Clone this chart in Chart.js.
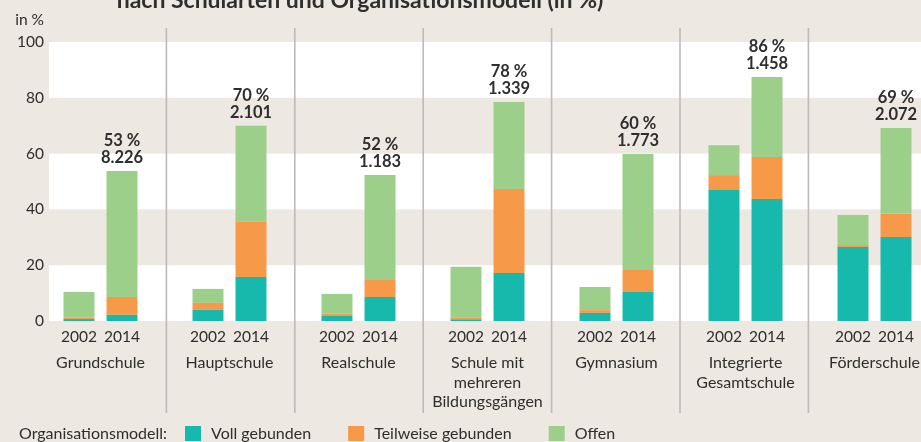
<!DOCTYPE html>
<html lang="de">
<head>
<meta charset="utf-8">
<script src="https://cdn.jsdelivr.net/npm/chart.js@4.4.1/dist/chart.umd.min.js"></script>
<style>
    html, body { margin: 0; padding: 0; overflow: hidden; background: #ede8e1; }
    #wrap { position: relative; width: 945px; height: 442px; }
</style>
</head>
<body>
<div id="wrap"><canvas id="myChart"></canvas></div>
<script>
const categories = [
    ["Grundschule"],
    ["Hauptschule"],
    ["Realschule"],
    ["Schule mit", "mehreren", "Bildungsgängen"],
    ["Gymnasium"],
    ["Integrierte", "Gesamtschule"],
    ["Förderschule"],
];
const years = ["2002", "2014"];
const models = ["Voll gebunden", "Teilweise gebunden", "Offen"];

const voll2002 = [0.7, 4, 1.8, 0.6, 2.9, 47, 26.5];
const teil2002 = [0.5, 2.5, 0.8, 0.6, 1, 5.3, 0.7];
const offen2002 = [9.2, 5, 7.1, 18.2, 8.3, 10.7, 10.8];

const voll2014 = [2.2, 15.8, 8.6, 17.2, 10.4, 43.7, 30.1];
const teil2014 = [6.4, 19.8, 6.1, 30.1, 7.9, 15.1, 8.3];
const offen2014 = [45.2, 34.4, 37.6, 31.2, 41.6, 28.7, 30.8];

const percent2014 = ["53 %", "70 %", "52 %", "78 %", "60 %", "86 %", "69 %"];
const count2014 = ["8.226", "2.101", "1.183", "1.339", "1.773", "1.458", "2.072"];

const yTicks = [0, 20, 40, 60, 80, 100];

const COLORS = ["#17b9ad", "#f69a4a", "#9bcf8a"];
const TEXT = "#2e2e2e";
const FONT = "Lato, 'Noto Sans', sans-serif";

function makeDataset(label, data, year, color) {
    return {
        label: label,
        data: data,
        stack: year,
        backgroundColor: color,
        borderWidth: 0,
        categoryPercentage: 0.667,
        barPercentage: 0.72,
    };
}

const datasets = [
    makeDataset(models[0], voll2002, years[0], COLORS[0]),
    makeDataset(models[1], teil2002, years[0], COLORS[1]),
    makeDataset(models[2], offen2002, years[0], COLORS[2]),
    makeDataset(models[0], voll2014, years[1], COLORS[0]),
    makeDataset(models[1], teil2014, years[1], COLORS[1]),
    makeDataset(models[2], offen2014, years[1], COLORS[2]),
];

// background bands, separators and all texts
const decorPlugin = {
    id: "decor",
    beforeDraw(chart) {
        const ctx = chart.ctx;
        const y = chart.scales.y;
        const x = chart.scales.x;
        ctx.save();
        ctx.fillStyle = "#ede8e1";
        ctx.fillRect(0, 0, chart.width, chart.height);
        ctx.fillStyle = "#ffffff";
        for (let i = 0; i < yTicks.length - 1; i += 2) {
            const top = y.getPixelForValue(yTicks[i + 1]);
            const bottom = y.getPixelForValue(yTicks[i]);
            ctx.fillRect(49, top, chart.width - 49, bottom - top);
        }

        ctx.strokeStyle = "#bdbbb8";
        ctx.lineWidth = 1.6;
        for (let i = 1; i < categories.length; i++) {
            const bx = (x.getPixelForValue(i - 1) + x.getPixelForValue(i)) / 2 + 2 - i * 0.6;
            ctx.beginPath();
            ctx.moveTo(bx, 28);
            ctx.lineTo(bx, 413);
            ctx.stroke();
        }
        ctx.restore();
    },
    afterDatasetsDraw(chart) {
        const ctx = chart.ctx;
        const y = chart.scales.y;
        const x = chart.scales.x;
        ctx.save();
        ctx.fillStyle = TEXT;

        // title (cut at top like the original)
        ctx.font = `bold 23px ${FONT}`;
        ctx.textAlign = "center";
        ctx.textBaseline = "alphabetic";
        ctx.fillText("nach Schularten und Organisationsmodell (in %)", 360, 8);

        ctx.font = `15.5px ${FONT}`;
        ctx.textAlign = "right";
        ctx.textBaseline = "middle";
        ctx.fillText("in %", 44, 20);
        yTicks.forEach((t) => ctx.fillText(String(t), 44, y.getPixelForValue(t)));

        // years under bars
        ctx.textAlign = "center";
        ctx.font = `15.5px ${FONT}`;
        const meta2002 = chart.getDatasetMeta(0);
        const meta2014 = chart.getDatasetMeta(3);
        meta2002.data.forEach((bar) => ctx.fillText(years[0], bar.x, 337));
        meta2014.data.forEach((bar) => ctx.fillText(years[1], bar.x, 337));

        // school types
        ctx.font = `16px ${FONT}`;
        categories.forEach((lines, i) => {
            const cx = x.getPixelForValue(i);
            lines.forEach((line, k) => ctx.fillText(line, cx, 363 + k * 19.5));
        });

        // totals above 2014 bars
        ctx.font = `bold 16.5px ${FONT}`;
        const topMeta = chart.getDatasetMeta(5);
        topMeta.data.forEach((bar, i) => {
            ctx.fillText(count2014[i], bar.x, bar.y - 13);
            ctx.fillText(percent2014[i], bar.x, bar.y - 30);
        });

        // legend
        ctx.font = `16px ${FONT}`;
        ctx.textAlign = "left";
        const ly = 434;
        ctx.fillText("Organisationsmodell:", 19, ly);
        let lx = 185;
        models.forEach((m, i) => {
            ctx.fillStyle = COLORS[i];
            ctx.fillRect(lx, ly - 8, 16, 15);
            ctx.fillStyle = TEXT;
            ctx.fillText(m, lx + 26, ly);
            lx += 26 + ctx.measureText(m).width + 37;
        });
        ctx.restore();
    },
};

function createChart() {
    const canvas = document.getElementById("myChart");
    return new Chart(canvas, {
        type: "bar",
        data: {
            labels: categories.map((c) => c.join(" ")),
            datasets: datasets,
        },
        plugins: [decorPlugin],
        options: {
            responsive: true,
            maintainAspectRatio: false,
            animation: false,
            layout: {
                padding: { left: 36, right: 6, top: 42, bottom: 121 },
            },
            scales: {
                x: { stacked: true, display: false },
                y: { stacked: true, display: false, min: 0, max: 100 },
            },
            plugins: {
                legend: { display: false },
                tooltip: { enabled: false },
            },
        },
    });
}

createChart();
</script>
</body>
</html>
